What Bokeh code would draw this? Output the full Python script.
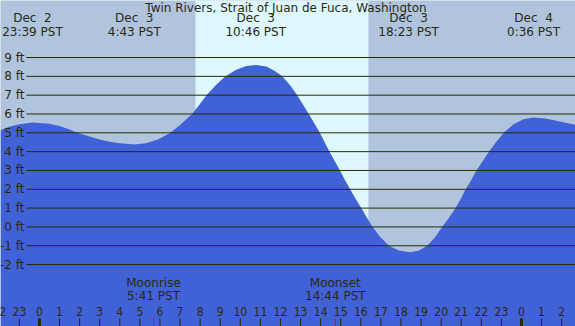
from bokeh.plotting import figure
from bokeh.models import Range1d
from bokeh.core.properties import value
from bokeh.embed import file_html
from bokeh.resources import INLINE

# ---------------- data (hours relative to Dec 3 00:00 PST) ----------------
title_text = "Twin Rivers, Strait of Juan de Fuca, Washington"

tide_hours = [-1.94, -1.5, -1.0, -0.35, 0.5, 1.0, 1.5, 1.88, 2.5, 3.0, 3.5, 4.0, 4.72,
              5.3, 5.9, 6.52, 7.0, 7.6, 8.0, 8.32, 8.8, 9.26, 9.8, 10.3, 10.8,
              11.3, 11.7, 12.09, 12.5, 12.83, 13.12, 13.41, 13.7, 13.96, 14.2, 14.44,
              14.7, 14.96, 15.21, 15.47, 15.74, 16.02, 16.3, 16.59, 16.96, 17.4, 17.9,
              18.45, 18.9, 19.31, 19.7, 20.05, 20.4, 20.72, 20.98, 21.22, 21.5, 21.76,
              22.07, 22.38, 22.75, 23.12, 23.6, 24.1, 24.6, 25.2, 25.9, 26.69]
tide_feet = [5.15, 5.32, 5.45, 5.55, 5.48, 5.36, 5.17, 5.0, 4.8, 4.65, 4.52, 4.44, 4.38,
             4.45, 4.65, 5.0, 5.42, 6.0, 6.55, 7.0, 7.55, 8.0, 8.35, 8.55, 8.6,
             8.52, 8.3, 8.0, 7.5, 7.0, 6.5, 6.0, 5.48, 5.0, 4.5, 4.0,
             3.5, 3.0, 2.5, 2.0, 1.5, 1.0, 0.5, 0.0, -0.52, -1.0, -1.25,
             -1.35, -1.25, -1.0, -0.55, 0.0, 0.5, 1.0, 1.5, 2.0, 2.5, 3.0,
             3.5, 4.0, 4.52, 5.0, 5.45, 5.72, 5.82, 5.76, 5.6, 5.42]

extreme_hours = [-0.35, 4.72, 10.77, 18.38, 24.6]
extreme_dates = ["Dec\u00a0 2", "Dec\u00a0 3", "Dec\u00a0 3", "Dec\u00a0 3", "Dec\u00a0 4"]
extreme_times = ["23:39 PST", "4:43 PST", "10:46 PST", "18:23 PST", "0:36 PST"]

moon_hours = [5.68, 14.73]
moon_events = ["Moonrise", "Moonset"]
moon_times = ["5:41 PST", "14:44 PST"]

sunrise_hour = 7.77
sunset_hour = 16.38

level_ticks = [-2, -1, 0, 1, 2, 3, 4, 5, 6, 7, 8, 9]
level_labels = ["-2 ft", "-1 ft", "0 ft", "1 ft", "2 ft", "3 ft", "4 ft", "5 ft",
                "6 ft", "7 ft", "8 ft", "9 ft"]

hour_ticks = list(range(-2, 27))
hour_labels = ["22", "23", "0", "1", "2", "3", "4", "5", "6", "7", "8", "9", "10", "11",
               "12", "13", "14", "15", "16", "17", "18", "19", "20", "21", "22", "23",
               "0", "1", "2"]
midnight_hours = [0, 24]

# ---------------- styling ----------------
X0, X1 = -1.94, 26.69
Y0, Y1 = -5.29, 12.03
NIGHT = "#B0C4DE"
DAY = "#DDF8FF"
WATER = "#4161D6"
LINE = "#2A2A00"
TEXT = "#2A2A10"
FONT = value("DejaVu Sans")

p = figure(width=575, height=326, x_range=Range1d(X0, X1), y_range=Range1d(Y0, Y1),
           output_backend="svg", toolbar_location=None, min_border=0,
           background_fill_color=NIGHT, border_fill_color=NIGHT)
p.axis.visible = False
p.grid.visible = False
p.outline_line_color = None

# daylight band
p.quad(left=[sunrise_hour], right=[sunset_hour], bottom=[Y0], top=[Y1],
       fill_color=DAY, line_color=None)

# tide area
p.varea(x=tide_hours, y1=[Y0] * len(tide_hours), y2=tide_feet, fill_color=WATER)

# level lines and labels
p.segment(x0=[-0.65] * len(level_ticks), y0=level_ticks, x1=[X1] * len(level_ticks),
          y1=level_ticks, line_color=LINE, line_width=1)
p.text(x=[-0.75] * len(level_ticks), y=level_ticks, text=level_labels,
       text_align="right", text_baseline="middle", text_font=FONT,
       text_font_size="12px", text_color=TEXT)

# title
p.text(x=[(X0 + X1) / 2 - 0.1], y=[11.62], text=[title_text], text_align="center",
       text_baseline="middle", text_font=FONT, text_font_size="12px", text_color=TEXT)

# extremes labels
p.text(x=extreme_hours, y=[11.08] * 5, text=extreme_dates, text_align="center",
       text_baseline="middle", text_font=FONT, text_font_size="12px", text_color=TEXT)
p.text(x=extreme_hours, y=[10.38] * 5, text=extreme_times, text_align="center",
       text_baseline="middle", text_font=FONT, text_font_size="12px", text_color=TEXT)

# moon labels
p.text(x=moon_hours, y=[-3.0] * 2, text=moon_events, text_align="center",
       text_baseline="middle", text_font=FONT, text_font_size="12px", text_color=TEXT)
p.text(x=moon_hours, y=[-3.69] * 2, text=moon_times, text_align="center",
       text_baseline="middle", text_font=FONT, text_font_size="12px", text_color=TEXT)

# hour labels and ticks
p.text(x=hour_ticks, y=[-4.48] * len(hour_ticks), text=hour_labels, text_align="center",
       text_baseline="middle", text_font=value("DejaVu Sans Condensed"),
       text_font_size="12px", text_color=TEXT)
p.segment(x0=hour_ticks, y0=[Y0] * len(hour_ticks), x1=hour_ticks,
          y1=[-4.86] * len(hour_ticks), line_color=LINE, line_width=1)
p.segment(x0=midnight_hours, y0=[Y0] * 2, x1=midnight_hours, y1=[-4.86] * 2,
          line_color=LINE, line_width=3)
p.segment(x0=moon_hours, y0=[Y0] * 2, x1=moon_hours, y1=[-4.86] * 2,
          line_color="red", line_width=1)

open("out.html", "w").write(file_html(p, INLINE))
